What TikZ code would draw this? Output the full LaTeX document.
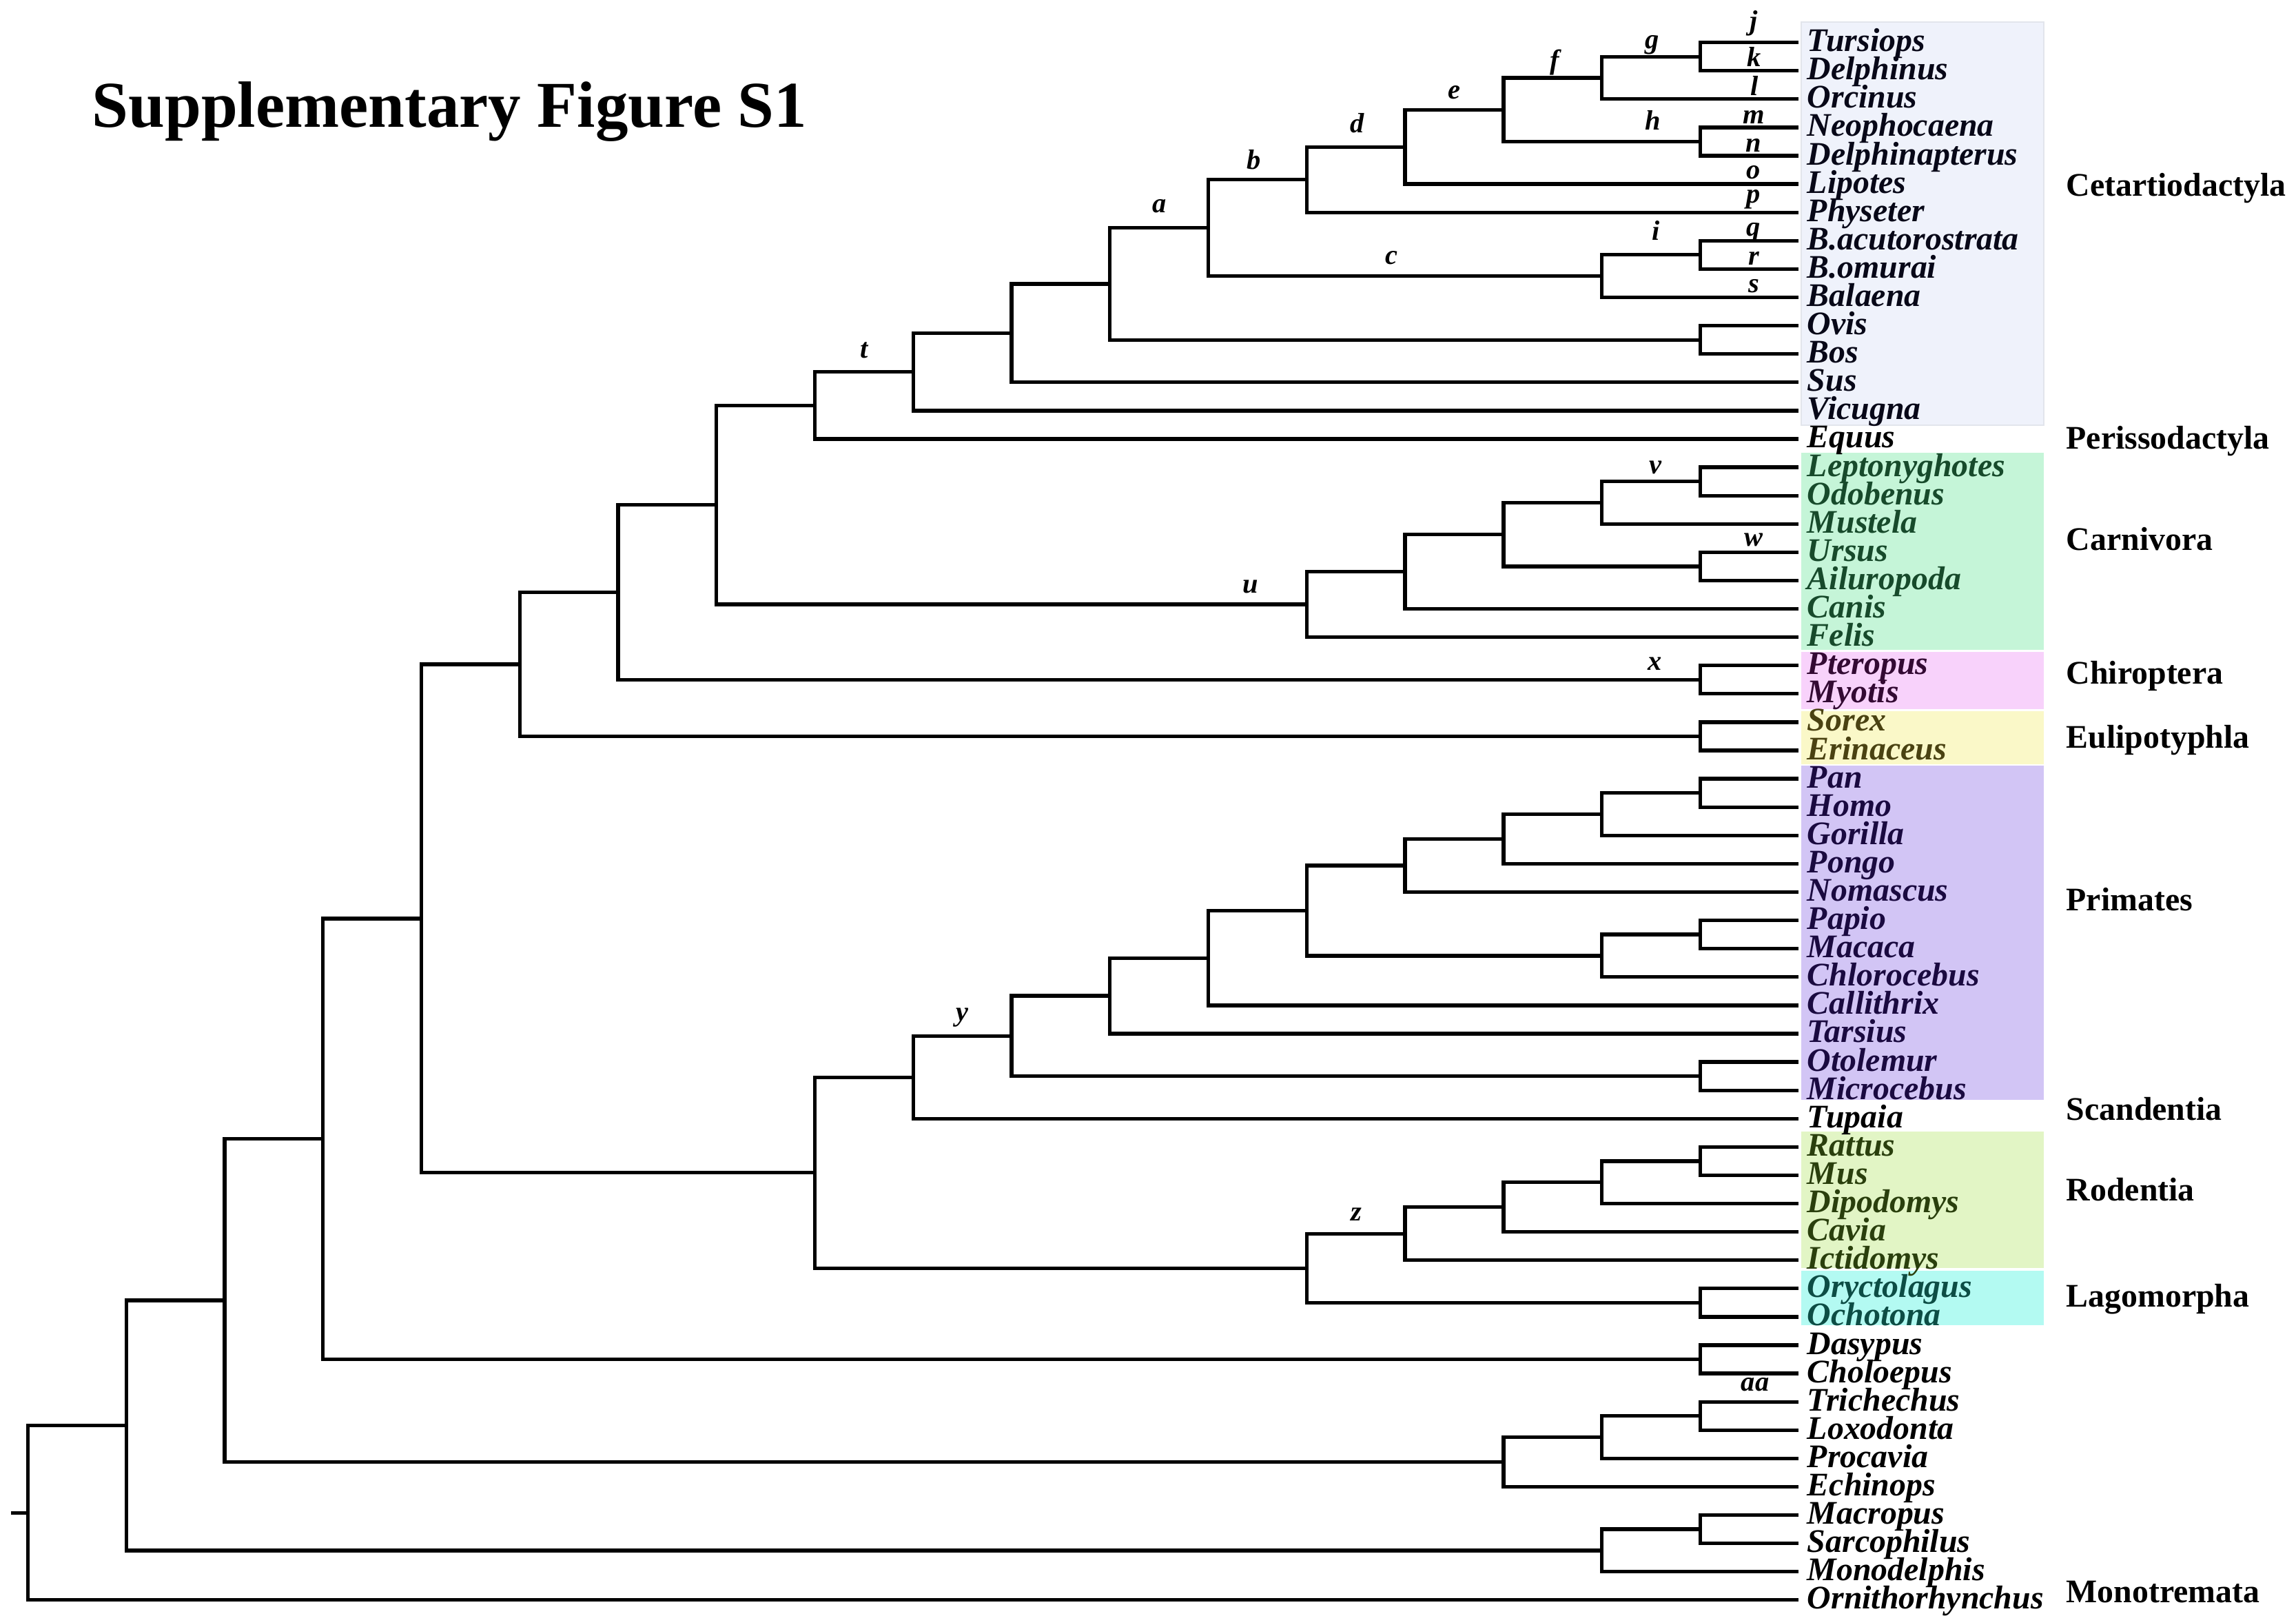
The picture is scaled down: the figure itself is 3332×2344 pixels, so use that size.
\documentclass[tikz,border=0pt]{standalone}
\usepackage{fontspec}
\setmainfont{Liberation Serif}
\definecolor{cetbg}{RGB}{239,242,251}
\definecolor{cetbd}{RGB}{226,229,236}
\definecolor{cetfg}{RGB}{8,8,24}
\definecolor{carbg}{RGB}{197,245,216}
\definecolor{carfg}{RGB}{23,74,43}
\definecolor{chibg}{RGB}{248,210,251}
\definecolor{chifg}{RGB}{51,10,51}
\definecolor{eulbg}{RGB}{250,248,200}
\definecolor{eulfg}{RGB}{74,66,18}
\definecolor{pribg}{RGB}{210,197,245}
\definecolor{prifg}{RGB}{26,10,64}
\definecolor{rodbg}{RGB}{226,245,197}
\definecolor{rodfg}{RGB}{42,63,13}
\definecolor{lagbg}{RGB}{179,250,242}
\definecolor{lagfg}{RGB}{13,77,69}
\begin{document}
\begin{tikzpicture}[x=0.01cm,y=-0.01cm,
  branch/.style={line width=1.5pt, line join=miter},
  leaf/.style={anchor=base west, inner sep=0pt, font=\fontsize{13.6}{16}\selectfont\bfseries\itshape},
  clade/.style={anchor=base west, inner sep=0pt, font=\fontsize{13.6}{16}\selectfont\bfseries},
  blab/.style={anchor=base, inner sep=0pt, font=\fontsize{11.5}{14}\selectfont\bfseries\itshape},
  titlestyle/.style={anchor=base west, inner sep=0pt, font=\fontsize{27}{32}\selectfont\bfseries}]
\useasboundingbox[fill=white] (0,0) rectangle (3332,2344);

% group boxes
\filldraw[fill=cetbg, draw=cetbd, line width=0.4pt] (2614,32) rectangle (2966,617);
\fill[carbg] (2614,657) rectangle (2966,943);
\fill[chibg] (2614,946) rectangle (2966,1029);
\fill[eulbg] (2614,1032) rectangle (2966,1109);
\fill[pribg] (2614,1111) rectangle (2966,1596);
\fill[rodbg] (2614,1642) rectangle (2966,1840);
\fill[lagbg] (2614,1844) rectangle (2966,1923);

\node[titlestyle] (title) at (133,184) {Supplementary Figure S1};

% tree coordinates: x = level, y = leaf index
\begin{scope}[x=1.4268cm, y=-0.4107cm, shift={(0.404cm,-0.2053cm)}]
  \foreach \i in {1,...,56} \coordinate (L\i) at (18,\i);
  \coordinate (TD) at (17,1.5);
  \coordinate (F) at (16,2.25);
  \coordinate (ND) at (17,4.5);
  \coordinate (E) at (15,3.375);
  \coordinate (D) at (14,4.6875);
  \coordinate (B) at (13,5.84375);
  \coordinate (BB) at (17,8.5);
  \coordinate (C) at (16,9.25);
  \coordinate (A) at (12,7.546875);
  \coordinate (OB) at (17,11.5);
  \coordinate (R11) at (11,9.5234375);
  \coordinate (R10) at (10,11.26171875);
  \coordinate (T9) at (9,12.630859);
  \coordinate (P8) at (8,13.815430);
  \coordinate (LO) at (17,16.5);
  \coordinate (V) at (16,17.25);
  \coordinate (UA) at (17,19.5);
  \coordinate (CA15) at (15,18.375);
  \coordinate (CA14) at (14,19.6875);
  \coordinate (U) at (13,20.84375);
  \coordinate (S7) at (7,17.329590);
  \coordinate (PT) at (17,23.5);
  \coordinate (S6) at (6,20.414795);
  \coordinate (SE) at (17,25.5);
  \coordinate (S5) at (5,22.957397);
  \coordinate (PH) at (17,27.5);
  \coordinate (G16) at (16,28.25);
  \coordinate (G15) at (15,29.125);
  \coordinate (G14) at (14,30.0625);
  \coordinate (PP) at (17,32.5);
  \coordinate (PP16) at (16,33.25);
  \coordinate (C13) at (13,31.65625);
  \coordinate (C12) at (12,33.328125);
  \coordinate (C11) at (11,34.664063);
  \coordinate (OM) at (17,37.5);
  \coordinate (Y10) at (10,36.082031);
  \coordinate (E9) at (9,37.541016);
  \coordinate (RM) at (17,40.5);
  \coordinate (R16) at (16,41.25);
  \coordinate (R15) at (15,42.125);
  \coordinate (Z14) at (14,43.0625);
  \coordinate (OO) at (17,45.5);
  \coordinate (G13) at (13,44.28125);
  \coordinate (EG8) at (8,40.911133);
  \coordinate (B4) at (4,31.934265);
  \coordinate (DC) at (17,47.5);
  \coordinate (X3) at (3,39.717133);
  \coordinate (TL) at (17,49.5);
  \coordinate (AF16) at (16,50.25);
  \coordinate (AF15) at (15,51.125);
  \coordinate (E2) at (2,45.421066);
  \coordinate (MS) at (17,53.5);
  \coordinate (MA16) at (16,54.25);
  \coordinate (T1) at (1,49.835533);
  \coordinate (ROOT) at (0,52.917767);
  \coordinate (STUB) at (-0.171,52.917767);
\end{scope}

% branches
\foreach \p/\a/\b in {TD/L1/L2, F/TD/L3, ND/L4/L5, E/F/ND, D/E/L6, B/D/L7,
  BB/L8/L9, C/BB/L10, A/B/C, OB/L11/L12, R11/A/OB, R10/R11/L13, T9/R10/L14,
  P8/T9/L15, LO/L16/L17, V/LO/L18, UA/L19/L20, CA15/V/UA, CA14/CA15/L21,
  U/CA14/L22, S7/P8/U, PT/L23/L24, S6/S7/PT, SE/L25/L26, S5/S6/SE,
  PH/L27/L28, G16/PH/L29, G15/G16/L30, G14/G15/L31, PP/L32/L33, PP16/PP/L34,
  C13/G14/PP16, C12/C13/L35, C11/C12/L36, OM/L37/L38, Y10/C11/OM, E9/Y10/L39,
  RM/L40/L41, R16/RM/L42, R15/R16/L43, Z14/R15/L44, OO/L45/L46, G13/Z14/OO,
  EG8/E9/G13, B4/S5/EG8, DC/L47/L48, X3/B4/DC, TL/L49/L50, AF16/TL/L51,
  AF15/AF16/L52, E2/X3/AF15, MS/L53/L54, MA16/MS/L55, T1/E2/MA16, ROOT/T1/L56}
  \draw[branch] (\a) -| (\p) |- (\b);
\draw[branch] (STUB) -- (ROOT);

% leaf names
\foreach \i/\nm/\c in {1/Tursiops/cetfg, 2/Delphinus/cetfg, 3/Orcinus/cetfg,
  4/Neophocaena/cetfg, 5/Delphinapterus/cetfg, 6/Lipotes/cetfg, 7/Physeter/cetfg,
  8/B.acutorostrata/cetfg, 9/B.omurai/cetfg, 10/Balaena/cetfg, 11/Ovis/cetfg,
  12/Bos/cetfg, 13/Sus/cetfg, 14/Vicugna/cetfg, 15/Equus/black,
  16/Leptonyghotes/carfg, 17/Odobenus/carfg, 18/Mustela/carfg, 19/Ursus/carfg,
  20/Ailuropoda/carfg, 21/Canis/carfg, 22/Felis/carfg,
  23/Pteropus/chifg, 24/Myotis/chifg, 25/Sorex/eulfg, 26/Erinaceus/eulfg,
  27/Pan/prifg, 28/Homo/prifg, 29/Gorilla/prifg, 30/Pongo/prifg,
  31/Nomascus/prifg, 32/Papio/prifg, 33/Macaca/prifg, 34/Chlorocebus/prifg,
  35/Callithrix/prifg, 36/Tarsius/prifg, 37/Otolemur/prifg, 38/Microcebus/prifg,
  39/Tupaia/black, 40/Rattus/rodfg, 41/Mus/rodfg, 42/Dipodomys/rodfg,
  43/Cavia/rodfg, 44/Ictidomys/rodfg, 45/Oryctolagus/lagfg, 46/Ochotona/lagfg,
  47/Dasypus/black, 48/Choloepus/black, 49/Trichechus/black, 50/Loxodonta/black,
  51/Procavia/black, 52/Echinops/black, 53/Macropus/black, 54/Sarcophilus/black,
  55/Monodelphis/black, 56/Ornithorhynchus/black}
  \node[leaf, text=\c] (n\i) at ([xshift=0.12cm, yshift=-0.13cm]L\i) {\nm};

% clade names
\foreach \nm/\y in {Cetartiodactyla/284, Perissodactyla/651, Carnivora/798,
  Chiroptera/992, Eulipotyphla/1085, Primates/1321, Scandentia/1625,
  Rodentia/1742, Lagomorpha/1896, Monotremata/2325}
  \node[clade] (cl\nm) at (2998,\y) {\nm};

% branch letters
\foreach \nm/\x/\y in {a/1683/308, b/1820/245, c/2019/383, d/1970/192,
  e/2110/143, f/2256/100, g/2398/70, h/2399/188, i/2403/348, j/2545/43,
  k/2546/96, l/2546/138, m/2545/179, n/2545/220, o/2545/259, p/2545/294,
  q/2545/342, r/2545/384, s/2545/424, t/1254/519, u/1815/860, v/2402/687,
  w/2545/792, x/2402/972, y/1396/1481, z/1968/1771, aa/2547/2018}
  \node[blab] (lab\nm) at (\x,\y) {\nm};
\end{tikzpicture}
\end{document}
